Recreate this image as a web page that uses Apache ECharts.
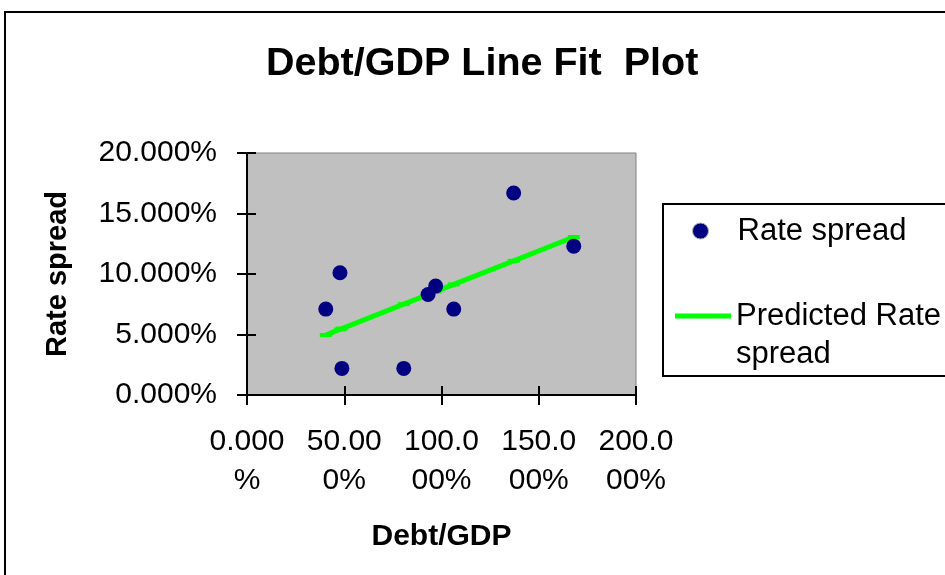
<!DOCTYPE html>
<html>
<head>
<meta charset="utf-8">
<title>Debt/GDP Line Fit Plot</title>
<script src="https://cdn.jsdelivr.net/npm/echarts@6/dist/echarts.min.js"></script>
<style>
  html, body { margin: 0; padding: 0; background: #fff; }
  #chart { width: 945px; height: 575px; }
</style>
</head>
<body>
<div id="chart"></div>
<script>
// values in percent
const debtGdp = [40.5, 47.8, 48.8, 80.6, 93.1, 97.0, 106.3, 137.1, 168.0]
const rateSpread = [7.1, 10.1, 2.2, 2.2, 8.3, 9.0, 7.1, 16.7, 12.3]
const predictedSpread = [4.96, 5.42, 5.49, 7.51, 8.30, 8.55, 9.14, 11.09, 13.06]

const xTickLabels = ['0.000\n%', '50.00\n0%', '100.0\n00%', '150.0\n00%', '200.0\n00%']
const yTickLabels = ['0.000%', '5.000%', '10.000%', '15.000%', '20.000%']

const FONT = '"Liberation Sans", Arial, sans-serif'

const scatterData = debtGdp.map((x, i) => [x, rateSpread[i]])
const lineData = debtGdp.map((x, i) => [x, predictedSpread[i]])

const chart = echarts.init(document.getElementById('chart'))

const option = {
  backgroundColor: '#fff',
  animation: false,
  title: {
    text: 'Debt/GDP Line Fit  Plot',
    left: 266,
    top: 44,
    padding: 0,
    textStyle: { fontFamily: FONT, fontSize: 39.5, fontWeight: 'bold', color: '#000' }
  },
  graphic: [
    {
      type: 'rect',
      z: -1,
      shape: { x: 5, y: 12, width: 1000, height: 1000 },
      style: { fill: 'none', stroke: '#000', lineWidth: 2 }
    },
    {
      type: 'rect',
      z: -1,
      shape: { x: 663, y: 204, width: 400, height: 172 },
      style: { fill: '#fff', stroke: '#000', lineWidth: 2 }
    }
  ],
  legend: [
    {
      data: [{ name: 'Rate spread', icon: 'circle', itemStyle: { borderColor: '#b0b0b0', borderWidth: 1 } }],
      left: 692,
      top: 213,
      padding: 0,
      itemWidth: 16,
      itemHeight: 16,
      textStyle: { fontFamily: FONT, fontSize: 31, lineHeight: 36, color: '#000', padding: [0, 0, 0, 24] }
    },
    {
      data: [{ name: 'Predicted Rate\nspread', icon: 'rect' }],
      left: 675,
      top: 259,
      padding: 0,
      itemWidth: 56,
      itemHeight: 5,
      // blank first line so "Predicted Rate" sits level with the icon
      formatter: name => '\n' + name,
      textStyle: { fontFamily: FONT, fontSize: 31, lineHeight: 38, color: '#000' }
    }
  ],
  grid: {
    left: 247,
    right: 309,
    top: 153,
    bottom: 180,
    show: true,
    backgroundColor: '#c0c0c0',
    borderColor: '#808080',
    borderWidth: 1
  },
  xAxis: [
    {
      type: 'value',
      min: 0,
      max: 200,
      interval: 50,
      name: 'Debt/GDP',
      nameLocation: 'middle',
      nameGap: 127,
      nameTextStyle: { fontFamily: FONT, fontSize: 30, fontWeight: 'bold', color: '#000' },
      axisLine: { show: true, onZero: false, lineStyle: { color: '#000', width: 2 } },
      axisTick: { show: true, length: 10, lineStyle: { color: '#000', width: 2 } },
      axisLabel: {
        margin: 27,
        fontFamily: FONT,
        fontSize: 30,
        lineHeight: 39,
        color: '#000',
        align: 'center',
        formatter: v => xTickLabels[Math.round(v / 50)]
      },
      splitLine: { show: false }
    },
    {
      type: 'value',
      position: 'bottom',
      min: 0,
      max: 200,
      interval: 50,
      axisLine: { show: false, onZero: false },
      axisTick: { show: true, inside: true, length: 9, lineStyle: { color: '#000', width: 2 } },
      axisLabel: { show: false },
      splitLine: { show: false }
    }
  ],
  yAxis: [
    {
      type: 'value',
      min: 0,
      max: 20,
      interval: 5,
      name: 'Rate spread',
      nameLocation: 'middle',
      nameGap: 175,
      nameTextStyle: { fontFamily: FONT, fontSize: 29, fontWeight: 'bold', color: '#000' },
      axisLine: { show: true, onZero: false, lineStyle: { color: '#000', width: 2 } },
      axisTick: { show: true, length: 10, lineStyle: { color: '#000', width: 2 } },
      axisLabel: {
        margin: 30,
        fontFamily: FONT,
        fontSize: 30,
        color: '#000',
        formatter: v => yTickLabels[Math.round(v / 5)]
      },
      splitLine: { show: false }
    },
    {
      type: 'value',
      position: 'left',
      min: 0,
      max: 20,
      interval: 5,
      axisLine: { show: false, onZero: false },
      axisTick: { show: true, inside: true, length: 9, lineStyle: { color: '#000', width: 2 } },
      axisLabel: { show: false },
      splitLine: { show: false }
    }
  ],
  series: [
    {
      name: 'Rate spread',
      type: 'scatter',
      data: scatterData,
      symbol: 'circle',
      symbolSize: 15,
      itemStyle: { color: '#000080', opacity: 1 },
      z: 3
    },
    {
      name: 'Predicted Rate\nspread',
      type: 'line',
      data: lineData,
      color: '#00ff00',
      symbol: 'rect',
      symbolSize: [12, 4],
      showSymbol: true,
      itemStyle: { color: '#00ff00' },
      lineStyle: { color: '#00ff00', width: 5 },
      z: 2
    }
  ]
}

chart.setOption(option)
</script>
</body>
</html>
